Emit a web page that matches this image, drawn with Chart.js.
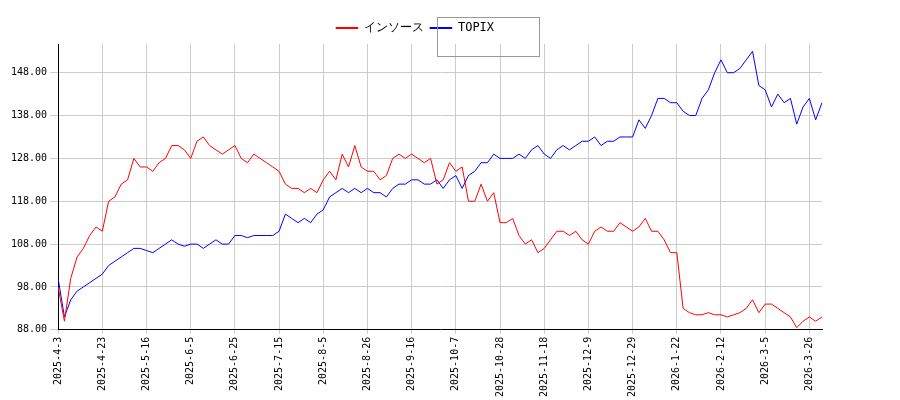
<!DOCTYPE html><html><head><script src="https://cdn.jsdelivr.net/npm/chart.js"></script>
<style>body{margin:0;background:#fff}</style></head><body><canvas id="c" width="900" height="400"></canvas>
<script>
const tickLabels=["2025-4-3","2025-4-23","2025-5-16","2025-6-5","2025-6-25","2025-7-15","2025-8-5","2025-8-26","2025-9-16","2025-10-7","2025-10-28","2025-11-18","2025-12-9","2025-12-29","2026-1-22","2026-2-12","2026-3-5","2026-3-26"];
const stock=[98,90,100,105,107,110,112, 111,118,119,122,123,128,126, 126,125,127,128,131,131,130, 128,132,133,131,130,129,130, 131,128,127,129,128,127,126, 125,122,121,121,120,121,120, 123,125,123,129,126,131,126, 125,125,123,124,128,129,128, 129,128,127,128,122,123,127, 125,126,118,118,122,118,120, 113,113,114,110,108,109,106, 107,109,111,111,110,111,109, 108,111,112,111,111,113,112, 111,112,114,111,111,109,106, 106,93,92,91.5,91.5,92,91.5, 91.5,91,91.5,92,93,95,92, 94,94,93,92,91,88.5,90, 91,90,91];
const topix=[100,91,95,97,98,99,100, 101,103,104,105,106,107,107, 106.5,106,107,108,109,108,107.5, 108,108,107,108,109,108,108, 110,110,109.5,110,110,110,110, 111,115,114,113,114,113,115, 116,119,120,121,120,121,120, 121,120,120,119,121,122,122, 123,123,122,122,123,121,123, 124,121,124,125,127,127,129, 128,128,128,129,128,130,131, 129,128,130,131,130,131,132, 132,133,131,132,132,133,133, 133,137,135,138,142,142,141, 141,139,138,138,142,144,148, 151,148,148,149,151,153,145, 144,140,143,141,142,136,140, 142,137,141];
const labels=stock.map((_,i)=>i%7===0?(tickLabels[i/7]||""):"");
const F="DejaVu Sans Mono";
const legendBox={id:'lb',afterDraw(ch){const l=ch.legend;if(!l)return;const c=ch.ctx;c.save();c.strokeStyle='#999';c.lineWidth=1;c.strokeRect(437.5,17.5,102,39);c.restore();}};
new Chart(document.getElementById('c'),{type:'line',data:{labels,datasets:[
{label:'インソース',data:stock,borderColor:'#f00',borderWidth:1,pointRadius:0,tension:0},
{label:'TOPIX',data:topix,borderColor:'#00f',borderWidth:1,pointRadius:0,tension:0}]},
plugins:[legendBox],
options:{animation:false,responsive:false,maintainAspectRatio:false,
layout:{padding:{left:8,right:78,top:16,bottom:0}},
plugins:{legend:{position:'top',maxWidth:100,labels:{boxWidth:22,boxHeight:1,padding:6,font:{family:F,size:12},color:'#000'}},tooltip:{enabled:false}},
scales:{x:{offset:false,grid:{color:'#ccc',tickLength:4},border:{color:'#000'},
ticks:{autoSkip:false,maxRotation:90,minRotation:90,font:{family:F,size:10},color:'#000',callback:(v,i)=>labels[i]===""?null:labels[i]}},
y:{min:88,max:154.7,grid:{color:'#ccc'},border:{color:'#000'},afterBuildTicks:a=>{a.ticks=[88,98,108,118,128,138,148].map(v=>({value:v}))},
ticks:{autoSkip:false,font:{family:F,size:10},color:'#000',callback:v=>v.toFixed(2)}}}}});
</script></body></html>
